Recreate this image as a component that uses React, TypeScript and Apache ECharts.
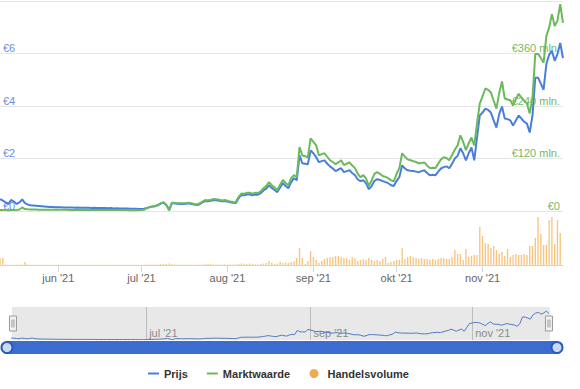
import React, { useEffect, useRef } from 'react';
import * as echarts from 'echarts';

// ---------- data ----------
const START_UTC = Date.UTC(2021, 4, 11);
const DAY_COUNT = 204;
const MONTHS_NL = ['jan', 'feb', 'mrt', 'apr', 'mei', 'jun', 'jul', 'aug', 'sep', 'okt', 'nov', 'dec'];
const NAV_LABEL_MONTHS = ['07', '09', '11'];

const dates: string[] = [];
for (let i = 0; i < DAY_COUNT; i++) {
  dates.push(new Date(START_UTC + i * 86400000).toISOString().slice(0, 10));
}

// Prijs (EUR)
const price = [
  0.45, 0.40, 0.33, 0.26, 0.42, 0.36, 0.27, 0.33, 0.44, 0.30,
  0.25, 0.22, 0.21, 0.20, 0.19, 0.18, 0.17, 0.16, 0.15, 0.15,
  0.145, 0.14, 0.14, 0.135, 0.13, 0.13, 0.13, 0.125, 0.13, 0.12,
  0.125, 0.12, 0.12, 0.115, 0.12, 0.115, 0.115, 0.11, 0.11, 0.105,
  0.11, 0.10, 0.105, 0.10, 0.10, 0.095, 0.095, 0.09, 0.09, 0.085,
  0.08, 0.08, 0.09, 0.12, 0.15, 0.17, 0.19, 0.22, 0.28, 0.32,
  0.22, 0.04, 0.30, 0.29, 0.28, 0.265, 0.27, 0.28, 0.29, 0.27,
  0.25, 0.23, 0.26, 0.33, 0.38, 0.37, 0.39, 0.42, 0.41, 0.39,
  0.37, 0.38, 0.36, 0.33, 0.31, 0.30, 0.48, 0.61, 0.60, 0.63,
  0.64, 0.60, 0.63, 0.62, 0.68, 0.78, 0.85, 0.98, 0.88, 0.80,
  0.72, 0.90, 1.06, 0.95, 0.87, 1.10, 1.25, 1.17, 2.12, 1.82,
  1.80, 1.78, 2.31, 2.20, 2.05, 1.86, 1.90, 1.93, 1.80, 1.70,
  1.62, 1.52, 1.58, 1.63, 1.48, 1.52, 1.55, 1.45, 1.36, 1.20,
  1.14, 1.17, 1.05, 0.83, 0.95, 1.15, 1.21, 1.18, 1.14, 1.10,
  1.06, 0.98, 0.95, 1.15, 1.29, 1.74, 1.62, 1.55, 1.53, 1.52,
  1.50, 1.48, 1.52, 1.55, 1.45, 1.36, 1.38, 1.36, 1.50, 1.62,
  1.67, 1.70, 1.63, 1.80, 2.00, 2.10, 2.39, 2.20, 1.93, 2.20,
  2.42, 1.93, 2.80, 3.64, 3.75, 3.90, 3.85, 3.75, 3.45, 3.18,
  3.70, 3.98, 3.52, 3.50, 3.45, 3.26, 3.45, 3.64, 3.52, 3.40,
  3.33, 2.99, 3.64, 5.08, 5.08, 4.85, 4.62, 5.60, 5.95, 6.10,
  5.72, 5.98, 6.40, 5.83,
];

// Marktwaarde (mln EUR)
const marketCap = [
  2.3, 2.2, 2.0, 1.8, 2.5, 2.3, 2.0, 3.5, 8.0, 4.5,
  3.8, 3.5, 3.3, 3.2, 3.1, 3.0, 2.9, 2.9, 2.8, 2.8,
  2.7, 2.7, 2.6, 2.6, 2.6, 2.5, 2.5, 2.5, 2.5, 2.4,
  2.4, 2.4, 2.3, 2.3, 2.3, 2.3, 2.2, 2.2, 2.2, 2.2,
  2.2, 2.2, 2.1, 2.1, 2.1, 2.1, 2.0, 2.0, 2.0, 2.0,
  2.0, 2.2, 3.0, 6.0, 9.0, 10, 11, 14, 18, 20,
  14, 1.5, 19, 18.5, 18, 17.5, 17.5, 18, 19, 17.5,
  16, 15, 17, 21.5, 25, 24, 25.5, 27.5, 27, 25.5,
  24, 25, 23.5, 21.5, 20.5, 20, 32, 40, 39.5, 41.5,
  42, 39.5, 41.5, 41, 45, 52, 57, 66, 59, 54,
  48, 60, 71, 64, 59, 75, 82, 77, 146, 127,
  125, 123, 166, 158, 150, 127, 130, 132, 124, 116,
  112, 107, 111, 116, 105, 108, 111, 104, 98, 85,
  77, 82, 74, 57, 70, 85, 89, 85, 80, 78,
  75, 70, 68, 85, 98, 132, 124, 118, 116, 114,
  112, 109, 110, 111, 104, 98, 99, 98, 108, 118,
  123, 121, 116, 128, 140, 150, 173, 158, 139, 155,
  168, 150, 200, 246, 262, 280, 277, 271, 252, 234,
  270, 296, 257, 255, 253, 241, 255, 268, 259, 252,
  246, 223, 259, 359, 359, 350, 339, 400, 419, 450,
  423, 435, 473, 430,
];

// Handelsvolume (relative units)
const volume = [
  7, 7, 0.5, 0.3, 0.3, 0.3, 0.4, 0.3, 0.5, 3,
  0.5, 0.3, 0.3, 0.2, 0.2, 0.2, 0.2, 0.2, 0.2, 0.2,
  0.2, 0.2, 0.2, 0.2, 0.2, 0.2, 0.2, 0.2, 0.2, 0.2,
  0.2, 0.2, 0.2, 0.2, 0.2, 0.2, 0.2, 0.2, 0.2, 0.2,
  0.2, 0.2, 0.2, 0.2, 0.2, 0.2, 0.2, 0.2, 0.2, 0.2,
  0.2, 0.2, 0.3, 0.5, 0.5, 0.4, 0.5, 0.6, 1, 1.2,
  1, 1.5, 1, 0.5, 0.4, 0.3, 0.3, 0.4, 0.3, 0.3,
  0.3, 0.3, 0.4, 0.6, 0.8, 1, 1, 0.6, 0.5, 0.4,
  0.4, 0.5, 0.4, 0.4, 0.5, 0.6, 1, 1.5, 1.2, 1,
  1.5, 1.2, 0.8, 0.6, 1, 1.5, 2, 4, 2, 1,
  1.5, 3, 2, 2.5, 2, 3, 4, 7, 17, 7,
  1, 4, 14, 8, 5, 2, 4, 6, 7, 8,
  8, 9, 9, 8, 7, 7, 5, 8, 7, 4,
  5, 6, 5, 7, 5, 4, 5, 4, 6, 8,
  2, 3, 4, 5, 5, 17, 6, 8, 9, 8,
  7, 6, 7, 6, 6, 5, 6, 5, 6, 7,
  7, 6, 6, 8, 15, 11, 11, 5, 16, 8,
  9, 10, 10, 38, 29, 22, 21, 17, 19, 15,
  11, 13, 9, 16, 8, 10, 11, 10, 10, 11,
  10, 19, 19, 27, 48, 31, 20, 20, 45, 48,
  21, 45, 32, 0,
];

// ---------- helpers ----------
const FONT = '"Liberation Sans", Arial, Helvetica, sans-serif';
const BLUE = '#4a7ed9';
const GREEN = '#6aba5c';
const isMonthStart = (v: string) => v.slice(8) === '01';
const isNavMonth = (v: string) => isMonthStart(v) && NAV_LABEL_MONTHS.includes(v.slice(5, 7));
const monthLabel = (v: string) => `${MONTHS_NL[Number(v.slice(5, 7)) - 1]} '${v.slice(2, 4)}`;

export default function App() {
  const ref = useRef<HTMLDivElement>(null);

  useEffect(() => {
    if (!ref.current) return;
    const chart = echarts.init(ref.current, null, { renderer: 'svg' });
    const option: any = {
      animation: false,
      textStyle: { fontFamily: FONT },
      grid: [
        { left: 0, right: 17, top: 1, height: 210 },
        { left: 0, right: 17, top: 215, height: 50 },
        { left: 11, right: 31, top: 307, height: 33 },
      ],
      xAxis: [
        {
          type: 'category', gridIndex: 0, data: dates, boundaryGap: false,
          axisLine: { show: false }, axisTick: { show: false }, axisLabel: { show: false },
          splitLine: { show: false },
        },
        {
          type: 'category', gridIndex: 1, data: dates, boundaryGap: false,
          axisLine: { show: true, lineStyle: { color: '#ccd6eb', width: 1 } },
          axisTick: {
            show: true, length: 7, interval: (_i: number, v: string) => isMonthStart(v),
            lineStyle: { color: '#ccd6eb' },
          },
          axisLabel: {
            interval: (_i: number, v: string) => isMonthStart(v),
            formatter: (v: string) => monthLabel(v),
            color: '#666666', fontSize: 11, margin: 7, fontFamily: FONT,
          },
          splitLine: { show: false },
        },
        {
          type: 'category', gridIndex: 2, data: dates, boundaryGap: false,
          axisLine: { show: false }, axisTick: { show: false },
          splitLine: {
            show: true, interval: (_i: number, v: string) => isNavMonth(v),
            lineStyle: { color: '#cfcfcf', width: 1 },
          },
          axisLabel: {
            inside: true, interval: (_i: number, v: string) => isNavMonth(v),
            formatter: (v: string) => monthLabel(v),
            color: '#999999', fontSize: 11, align: 'left', margin: 2,
            padding: [0, 0, 0, 3], fontFamily: FONT,
          },
        },
      ],
      yAxis: [
        {
          type: 'value', gridIndex: 0, min: 0, max: 8, interval: 2, position: 'left',
          axisLine: { show: false }, axisTick: { show: false },
          splitLine: { show: true, lineStyle: { color: '#e6e6e6', width: 1 } },
          axisLabel: {
            inside: true, showMaxLabel: false, margin: 3, verticalAlign: 'bottom',
            color: '#6a8fdf', fontSize: 11, fontFamily: FONT,
            formatter: (v: number) => `€${v}`,
          },
        },
        {
          type: 'value', gridIndex: 0, min: 0, max: 480, interval: 120, position: 'right',
          axisLine: { show: false }, axisTick: { show: false }, splitLine: { show: false },
          axisLabel: {
            inside: true, showMaxLabel: false, margin: 3, verticalAlign: 'bottom',
            color: '#74b965', fontSize: 11, fontFamily: FONT,
            formatter: (v: number) => (v === 0 ? '€0' : `€${v} mln.`),
          },
        },
        {
          type: 'value', gridIndex: 1, min: 0, max: 50, show: false,
          splitLine: { show: false },
        },
        {
          type: 'value', gridIndex: 2, min: 0, max: 7.3, show: false,
          splitLine: { show: false },
        },
      ],
      dataZoom: [
        {
          type: 'slider', xAxisIndex: [0, 1], start: 0, end: 100,
          left: 11, right: 31, top: 307, height: 33,
          showDataShadow: false, showDetail: false, brushSelect: false,
          moveHandleSize: 0, borderRadius: 0,
          backgroundColor: 'rgba(0,0,0,0)', borderColor: 'rgba(0,0,0,0)',
          fillerColor: 'rgba(0,0,0,0.09)',
          handleIcon: 'path://M0.5,0.5 L7.5,0.5 L7.5,15.5 L0.5,15.5 Z M3,4 L3,12 M5,4 L5,12',
          handleSize: 15,
          handleStyle: { color: '#f2f2f2', borderColor: '#999999', borderWidth: 1 },
        },
        {
          type: 'slider', xAxisIndex: [0, 1], start: 0, end: 100,
          left: 4, right: 24, top: 341, height: 13,
          showDataShadow: false, showDetail: false, brushSelect: false,
          moveHandleSize: 0, borderRadius: 6,
          backgroundColor: 'rgba(0,0,0,0)', borderColor: 'rgba(0,0,0,0)',
          fillerColor: '#3a6dcf',
          handleIcon: 'circle', handleSize: '85%',
          handleStyle: { color: '#cbd9f3', borderColor: '#2a5cbd', borderWidth: 2 },
        },
      ],
      legend: [
        {
          data: ['Prijs', 'Marktwaarde'], left: 148, top: 368, padding: 0,
          icon: 'rect', itemWidth: 11, itemHeight: 2, itemGap: 19, selectedMode: false,
          textStyle: { fontWeight: 'bold', fontSize: 11, color: '#333333', fontFamily: FONT },
        },
        {
          data: [{ name: 'Handelsvolume', itemStyle: { color: '#eeac4f' } }],
          left: 309.5, top: 368, padding: 0,
          icon: 'circle', itemWidth: 17, itemHeight: 9, selectedMode: false,
          textStyle: { fontWeight: 'bold', fontSize: 11, color: '#333333', fontFamily: FONT },
        },
      ],
      series: [
        {
          name: 'Prijs', type: 'line', xAxisIndex: 0, yAxisIndex: 0, data: price,
          showSymbol: false, symbol: 'none', lineStyle: { color: BLUE, width: 2 },
          itemStyle: { color: BLUE },
        },
        {
          name: 'Marktwaarde', type: 'line', xAxisIndex: 0, yAxisIndex: 1, data: marketCap,
          showSymbol: false, symbol: 'none', lineStyle: { color: GREEN, width: 2 },
          itemStyle: { color: GREEN },
        },
        {
          name: 'Handelsvolume', type: 'bar', xAxisIndex: 1, yAxisIndex: 2, data: volume,
          barWidth: '50%', itemStyle: { color: '#f6c681' },
        },
        {
          name: 'navigator', type: 'line', xAxisIndex: 2, yAxisIndex: 3, data: price,
          showSymbol: false, symbol: 'none', lineStyle: { color: '#5a86d8', width: 1 },
          itemStyle: { color: '#5a86d8' },
        },
      ],
    };
    chart.setOption(option);
    return () => chart.dispose();
  }, []);

  return (
    <div
      ref={ref}
      style={{ position: 'fixed', left: 0, top: 0, width: 580, height: 389, background: '#ffffff' }}
    />
  );
}
